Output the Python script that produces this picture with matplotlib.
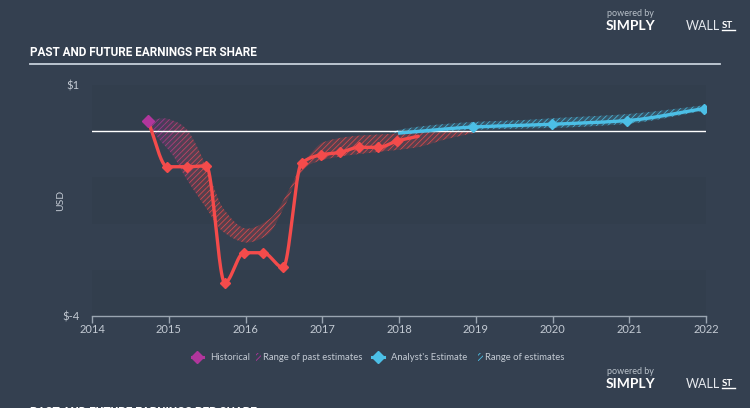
import matplotlib
matplotlib.use("Agg")
from matplotlib import pyplot as plt
from matplotlib.lines import Line2D
from matplotlib.patches import Rectangle
import numpy as np

# historical EPS (past)
hist_x = [2014.73, 2014.98, 2015.24, 2015.49, 2015.73, 2015.98, 2016.23, 2016.49,
          2016.73, 2016.99, 2017.23, 2017.48, 2017.73, 2017.98, 2018.25]
hist_y = [0.22, -0.77, -0.77, -0.75, -3.28, -2.63, -2.63, -2.95,
          -0.69, -0.51, -0.46, -0.35, -0.35, -0.21, -0.11]

# range of past estimates
past_up_x = [2014.73, 2014.93, 2015.10, 2015.23, 2015.34, 2015.43, 2015.56, 2015.71, 2016.02,
             2016.32, 2016.58, 2016.71, 2016.84, 2017.01, 2017.45, 2017.88, 2018.27, 2019.06]
past_up_y = [0.22, 0.28, 0.20, 0.05, -0.24, -0.55, -1.10, -1.67, -2.11,
             -1.89, -1.23, -0.79, -0.50, -0.24, -0.10, -0.06, -0.03, -0.01]
past_lo_x = [2014.73, 2014.84, 2015.06, 2015.20, 2015.49, 2015.71, 2016.02, 2016.28,
             2016.54, 2016.69, 2016.84, 2017.23, 2017.67, 2018.23, 2018.62, 2019.06]
past_lo_y = [0.20, -0.10, -0.54, -0.95, -1.67, -2.18, -2.41, -2.25,
             -1.52, -0.98, -0.72, -0.55, -0.46, -0.35, -0.17, -0.01]

# analyst estimates
est_x = [2018.01, 2018.96, 2019.99, 2020.97, 2021.97]
est_y = [-0.04, 0.09, 0.15, 0.23, 0.49]

# range of estimates
fut_x = [2017.88, 2018.06, 2018.49, 2018.97, 2019.71, 2019.99, 2020.97, 2021.97]
fut_up = [-0.02, 0.05, 0.14, 0.20, 0.25, 0.28, 0.37, 0.56]
fut_lo = [-0.03, -0.06, -0.02, 0.03, 0.06, 0.07, 0.16, 0.44]

years = list(range(2014, 2023))

BG = '#344050'
BAND = '#323e4d'
RED = '#f44b4b'
BLUE = '#4cbfe6'
PURPLE = '#b1369c'
TXT = '#c3cad3'
TITLE_FONT = ['Roboto', 'DejaVu Sans']


def monotone(x, y, xs):
    """monotone cubic curve (like d3 curveMonotoneX) used only for drawing the line shape"""
    x = np.asarray(x, float)
    y = np.asarray(y, float)
    h = np.diff(x)
    d = np.diff(y) / h
    m = np.zeros_like(y)
    m[0] = d[0]
    m[-1] = d[-1]
    for k in range(1, len(x) - 1):
        if d[k - 1] * d[k] <= 0:
            m[k] = 0
        else:
            w1 = 2 * h[k] + h[k - 1]
            w2 = h[k] + 2 * h[k - 1]
            m[k] = (w1 + w2) / (w1 / d[k - 1] + w2 / d[k])
    idx = np.clip(np.searchsorted(x, xs) - 1, 0, len(x) - 2)
    t = (xs - x[idx]) / h[idx]
    h00 = 2 * t**3 - 3 * t**2 + 1
    h10 = t**3 - 2 * t**2 + t
    h01 = -2 * t**3 + 3 * t**2
    h11 = t**3 - t**2
    return h00 * y[idx] + h10 * h[idx] * m[idx] + h01 * y[idx + 1] + h11 * h[idx] * m[idx + 1]


plt.rcParams['hatch.linewidth'] = 0.6
plt.rcParams['font.family'] = ['Lato', 'DejaVu Sans']

fig = plt.figure(figsize=(7.5, 4.08), dpi=100)
fig.patch.set_facecolor(BG)

ax = fig.add_axes([92 / 750, 92 / 408, 614 / 750, 231 / 408])
ax.set_facecolor(BG)
ax.set_xlim(2014, 2022)
ax.set_ylim(-4, 1)

for lo, hi in [(0, 1), (-2, -1), (-4, -3)]:
    ax.axhspan(lo, hi, color=BAND, lw=0, zorder=0)

# past estimates band, purple at the start fading to red
xs = np.linspace(past_up_x[0], past_up_x[-1], 400)
up = monotone(past_up_x, past_up_y, xs)
lo = monotone(past_lo_x, past_lo_y, xs)
c_p = np.array(matplotlib.colors.to_rgb(PURPLE))
c_r = np.array(matplotlib.colors.to_rgb(RED))
step = 10
for i in range(0, len(xs) - 1, step):
    j = min(i + step + 1, len(xs))
    f = np.clip((xs[i] - 2014.8) / 0.6, 0, 1)
    col = tuple(c_p * (1 - f) + c_r * f)
    ax.fill_between(xs[i:j], lo[i:j], up[i:j], facecolor=col + (0.18,), edgecolor=col + (0.8,),
                    hatch='//////', lw=0, zorder=2)

xf = np.linspace(fut_x[0], fut_x[-1], 300)
ax.fill_between(xf, monotone(fut_x, fut_lo, xf), monotone(fut_x, fut_up, xf),
                facecolor=matplotlib.colors.to_rgba(BLUE, 0.18),
                edgecolor=matplotlib.colors.to_rgba(BLUE, 0.85), hatch='//////', lw=0, zorder=2)

ax.axhline(0, color='white', lw=1.0, zorder=3)

xh = np.linspace(hist_x[0], hist_x[-1], 600)
ax.plot(xh, monotone(hist_x, hist_y, xh), color=RED, lw=2.4, zorder=4, solid_capstyle='round')
ax.plot(hist_x[1:-1], hist_y[1:-1], ls='none', marker='D', ms=5, color=RED, zorder=5)
ax.plot(hist_x[:1], hist_y[:1], ls='none', marker='D', ms=6, color=PURPLE, zorder=5)

xe = np.linspace(est_x[0], est_x[-1], 400)
ax.plot(xe, monotone(est_x, est_y, xe), color=BLUE, lw=2.4, zorder=4)
ax.plot(est_x[1:], est_y[1:], ls='none', marker='D', ms=5.5, color=BLUE, zorder=5)

for s in ['top', 'right', 'left']:
    ax.spines[s].set_visible(False)
ax.spines['bottom'].set_color('#9aa5b1')
ax.spines['bottom'].set_linewidth(1.0)
ax.set_xticks(years)
ax.set_xticklabels([str(y) for y in years])
ax.tick_params(axis='x', colors='#9aa5b1', labelcolor=TXT, labelsize=8, length=5, width=1, pad=1)
ax.set_yticks([1, -4])
ax.set_yticklabels([r'\$1', r'\$-4'])
ax.tick_params(axis='y', length=0, labelcolor=TXT, labelsize=8, pad=9)
ax.set_ylabel('USD', color=TXT, fontsize=7.5)
ax.yaxis.set_label_coords(-0.043, 0.5)

# title and rule
fig.text(30 / 750, 1 - 53 / 408, 'PAST AND FUTURE EARNINGS PER SHARE', color='white',
         fontsize=8.5, fontweight='bold', family=TITLE_FONT, va='center', ha='left')
fig.add_artist(Line2D([30 / 750, 720 / 750], [1 - 64 / 408] * 2, color='#c6d0da', lw=1.3,
                      transform=fig.transFigure))

# bottom, cut-off repeat of the title
fig.text(30 / 750, 1 - 412 / 408, 'PAST AND FUTURE EARNINGS PER SHARE', color='white',
         fontsize=8.5, fontweight='bold', family=TITLE_FONT, va='center', ha='left')


def logo(y_top):
    fig.text(607 / 750, 1 - (y_top + 5) / 408, 'powered by', color='#b8c0c9', fontsize=6.5,
             va='center', ha='left')
    fig.text(606 / 750, 1 - (y_top + 17) / 408, 'SIMPLY', color='white', fontsize=10,
             fontweight='bold', va='center', ha='left')
    fig.text(686 / 750, 1 - (y_top + 17) / 408, 'WALL', color='#e6e9ee', fontsize=9,
             va='center', ha='left')
    fig.text(722 / 750, 1 - (y_top + 16) / 408, 'ST', color='white', fontsize=7,
             fontweight='bold', va='center', ha='left')
    fig.add_artist(Line2D([722 / 750, 735 / 750], [1 - (y_top + 21) / 408] * 2, color='white',
                          lw=1, transform=fig.transFigure))


logo(9)
logo(367)

# legend
ly = 1 - 357 / 408
LFS = 6.8
fig.add_artist(Line2D([197 / 750], [ly], marker='D', ms=6, color=PURPLE, transform=fig.transFigure))
fig.add_artist(Line2D([192 / 750, 203 / 750], [ly, ly], color=PURPLE, lw=2.2, transform=fig.transFigure))
fig.text(210 / 750, ly, 'Historical', color=TXT, fontsize=LFS, va='center', ha='left')
fig.add_artist(Rectangle((256 / 750, ly - 4 / 408), 5 / 750, 8 / 408, transform=fig.transFigure,
                         facecolor='none', edgecolor=PURPLE, hatch='//////', lw=0))
fig.text(263 / 750, ly, 'Range of past estimates', color=TXT, fontsize=LFS, va='center', ha='left')
fig.add_artist(Line2D([378 / 750], [ly], marker='D', ms=6, color=BLUE, transform=fig.transFigure))
fig.add_artist(Line2D([372 / 750, 384 / 750], [ly, ly], color=BLUE, lw=2.2, transform=fig.transFigure))
fig.text(391 / 750, ly, "Analyst's Estimate", color=TXT, fontsize=LFS, va='center', ha='left')
fig.add_artist(Rectangle((478 / 750, ly - 4 / 408), 5 / 750, 8 / 408, transform=fig.transFigure,
                         facecolor='none', edgecolor=BLUE, hatch='//////', lw=0))
fig.text(485 / 750, ly, 'Range of estimates', color=TXT, fontsize=LFS, va='center', ha='left')

fig.savefig('out.png', dpi=100, facecolor=BG)
